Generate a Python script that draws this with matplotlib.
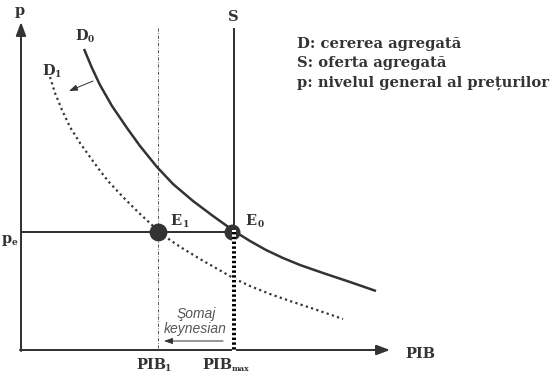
import matplotlib
matplotlib.use("Agg")
import matplotlib.pyplot as plt

# ---- data (pixel space of the diagram) ----
d0_x = [84, 92, 100, 112, 127, 140, 157, 173, 193, 213, 234, 250, 266, 283, 300, 323, 350, 376]
d0_y = [49, 68, 85, 106, 128, 146, 167, 184, 201, 216, 231, 241, 250, 258, 265, 273, 282, 291]
d1_x = [50, 55, 62, 70, 80, 90, 98, 108, 122, 137, 153, 158, 170, 182, 200, 235, 250, 270, 290, 317, 343]
d1_y = [77, 93, 110, 127, 143, 157, 168, 181, 196, 211, 226, 231, 240, 248, 259, 279, 286, 294, 301, 310, 319]
pe_y = 232
pib1_x = 158
pibmax_x = 234
legend_lines = ["D: cererea agregată", "S: oferta agregată", "p: nivelul general al prețurilor"]

C = "#333333"
fig = plt.figure(figsize=(5.52, 3.77), dpi=100)
ax = fig.add_axes([0, 0, 1, 1])
ax.set_xlim(0, 552)
ax.set_ylim(377, 0)
ax.axis("off")

px = 0.72  # points per pixel

# axes with arrows
ax.annotate("", xy=(21, 22), xytext=(21, 351),
            arrowprops=dict(arrowstyle="-|>,head_length=0.8,head_width=0.3", color=C, lw=2 * px, shrinkA=0, shrinkB=0))
ax.annotate("", xy=(390, 350), xytext=(20, 350),
            arrowprops=dict(arrowstyle="-|>,head_length=0.8,head_width=0.3", color=C, lw=2 * px, shrinkA=0, shrinkB=0))

# pe line
ax.plot([21, pibmax_x], [pe_y, pe_y], color=C, lw=2 * px, solid_capstyle="butt")
# S vertical
ax.plot([pibmax_x, pibmax_x], [28, pe_y], color=C, lw=2 * px, solid_capstyle="butt")
# PIB1 dash-dot thin
ax.plot([pib1_x, pib1_x], [28, 350], color=C, lw=0.8 * px, linestyle=(0, (4, 2, 1, 2)))

# demand curves
ax.plot(d0_x, d0_y, color=C, lw=2.5 * px, solid_capstyle="butt", solid_joinstyle="round")
ax.plot(d1_x, d1_y, color=C, lw=2.2 * px, linestyle=(0, (1, 1.5)))

# equilibrium dots
ax.scatter([pib1_x], [pe_y], s=140, color=C, zorder=5)
ax.scatter([pibmax_x - 2], [pe_y], s=110, color=C, zorder=5)

# S dotted below
ax.plot([pibmax_x, pibmax_x], [pe_y, 350], color="white", lw=4 * px, zorder=6)
ax.plot([pibmax_x, pibmax_x], [pe_y, 350], color="black", lw=4 * px, linestyle=(0, (0.6, 0.6)), zorder=7)

# shift arrow D0 -> D1
ax.annotate("", xy=(69, 91), xytext=(93, 81),
            arrowprops=dict(arrowstyle="-|>,head_length=0.5,head_width=0.18", color=C, lw=1 * px, shrinkA=0, shrinkB=0))
# Somaj arrow
ax.annotate("", xy=(164, 341), xytext=(223, 341),
            arrowprops=dict(arrowstyle="-|>,head_length=0.5,head_width=0.18", color=C, lw=1 * px, shrinkA=0, shrinkB=0))

bf = dict(family="DejaVu Serif", weight="bold", color=C)
def lab(x, y, s, sub=None, size=10.5, subsize=6.5, dx=None):
    ax.text(x, y, s, fontsize=size, ha="left", va="baseline", **bf)
    if sub is not None:
        ax.text(dx, y + 2, sub, fontsize=subsize, ha="left", va="baseline", **bf)

lab(15, 15, "p")
lab(228, 21, "S")
lab(75, 40, "D", "0", dx=88)
lab(42, 75, "D", "1", dx=55)
lab(170, 225, "E", "1", dx=183)
lab(245, 225, "E", "0", dx=258)
lab(2, 243, "p", "e", dx=12)
lab(405, 358, "PIB")
lab(136, 369, "PIB", "1", dx=165)
lab(202, 369, "PIB", "max", dx=232, subsize=5.5)

for i, s in enumerate(legend_lines):
    ax.text(297, 48 + i * 19.5, s, fontsize=10.6, ha="left", va="baseline", **bf)

itf = dict(family="Liberation Sans", style="italic", color="#555555", fontsize=10)
ax.text(196, 318, "Şomaj", ha="center", va="baseline", **itf)
ax.text(195, 333, "keynesian", ha="center", va="baseline", **itf)

fig.savefig("out.png", dpi=100)
